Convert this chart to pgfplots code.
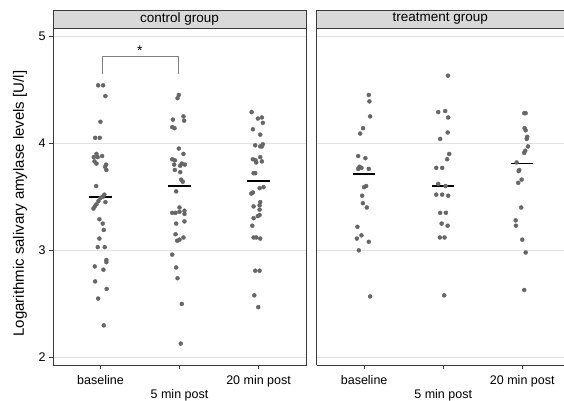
\documentclass[border=0pt]{standalone}
\usepackage{pgfplots}
\pgfplotsset{compat=1.18}
\usepackage{fontspec}
\setmainfont{Liberation Sans}

\definecolor{dotgray}{HTML}{666666}
\definecolor{stripgray}{HTML}{D9D9D9}
\definecolor{gridgray}{HTML}{E2E2E2}
\definecolor{framegray}{HTML}{3A3A3A}

\pgfplotsset{
  panel/.style={
    scale only axis,
    height=337pt,
    xmin=0.4, ymin=1.93, ymax=5.075,
    clip=false,
    xtick={1,2,3},
    xticklabels={baseline,,20 min post},
    extra x ticks={2},
    extra x tick labels={5 min post},
    extra x tick style={tick label style={yshift=-14pt}},
    xticklabel style={yshift=-3pt},
    ytick={2,3,4,5},
    ymajorgrids,
    grid style={gridgray, line width=0.8pt},
    tick align=outside,
    major tick length=4pt,
    tick style={framegray, line width=0.6pt},
    axis line style={framegray, line width=0.8pt},
    tick label style={font=\fontsize{12.5}{14}\selectfont},
    /pgf/number format/assume math mode=true,
  },
  dots/.style={only marks, mark=*, mark size=2pt, draw=dotgray, fill=dotgray},
  med/.style={black, line width=1.7pt, forget plot},
}

\begin{document}
\begin{tikzpicture}[x=1pt,y=1pt]
\useasboundingbox (0,0) rectangle (564,400);

% control group
\begin{axis}[panel, at={(53pt,35pt)}, anchor=south west, width=253pt, xmax=3.6,
  xtick pos=bottom, ytick pos=left,
  ylabel={Logarithmic salivary amylase levels [U/l]},
  ylabel style={font=\fontsize{15}{17}\selectfont, at={(rel axis cs:-0.115,0.479)}, anchor=base}]
\draw[framegray, line width=0.8pt, fill=stripgray] (rel axis cs:0,1) rectangle (rel axis cs:1,1.0534);
\node[font=\fontsize{13.5}{15}\selectfont] at (rel axis cs:0.5,1.0267) {control group};

\addplot[dots] table {
x y
0.971 4.54
1.034 4.54
1.063 4.44
1.000 4.20
0.933 4.05
0.991 4.05
0.950 3.90
0.916 3.87
0.966 3.87
1.021 3.88
0.925 3.83
0.950 3.81
1.072 3.80
1.059 3.78
1.075 3.75
0.946 3.60
1.050 3.52
1.030 3.50
1.000 3.49
0.975 3.46
1.063 3.45
0.950 3.43
0.928 3.41
0.912 3.39
0.987 3.29
1.029 3.25
1.042 3.19
0.987 3.11
0.966 3.03
1.054 3.03
1.075 2.91
1.075 2.89
0.928 2.85
1.038 2.82
0.933 2.71
1.079 2.64
0.971 2.55
1.042 2.30
};
\addplot[dots] table {
x y
1.991 4.45
1.975 4.42
2.050 4.25
2.059 4.21
1.916 4.22
1.908 4.15
1.937 4.14
1.991 3.95
2.050 3.90
1.908 3.85
1.941 3.84
1.933 3.80
2.029 3.81
2.067 3.80
2.009 3.79
1.941 3.75
2.009 3.73
2.021 3.66
2.042 3.64
1.958 3.55
2.000 3.40
1.908 3.35
1.950 3.35
2.000 3.36
2.063 3.37
2.063 3.34
2.063 3.27
1.958 3.25
1.950 3.15
1.971 3.09
2.000 3.10
2.050 3.12
1.908 2.96
1.958 2.84
1.975 2.74
2.029 2.50
2.016 2.13
};
\addplot[dots] table {
x y
2.912 4.29
2.991 4.23
3.042 4.24
3.054 4.19
2.928 4.13
3.021 4.08
2.958 3.98
3.021 3.97
3.054 3.99
3.042 3.97
2.928 3.85
2.962 3.84
3.021 3.87
3.042 3.83
2.971 3.82
2.937 3.72
2.958 3.72
3.013 3.58
3.063 3.59
2.928 3.54
2.908 3.53
3.021 3.45
3.013 3.42
2.937 3.41
3.013 3.38
2.937 3.30
2.991 3.32
3.013 3.33
2.921 3.23
2.937 3.12
2.971 3.12
3.021 3.11
2.958 2.81
3.013 2.81
2.946 2.58
2.996 2.47
};
\addplot[med] coordinates {(0.85,3.50) (1.15,3.50)};
\addplot[med] coordinates {(1.85,3.60) (2.15,3.60)};
\addplot[med] coordinates {(2.85,3.65) (3.15,3.65)};
\addplot[gray, line width=0.7pt, forget plot] coordinates {(1.02,4.645) (1.02,4.81) (1.99,4.81) (1.99,4.645)};
\node[font=\fontsize{14}{16}\selectfont] at (axis cs:1.5,4.86) {*};
\end{axis}

% treatment group
\begin{axis}[panel, at={(316.7pt,35pt)}, anchor=south west, width=247.3pt, xmax=3.528,
  axis x line*=bottom, axis y line*=left,
  yticklabels={}, major y tick style={draw=none}]
\draw[framegray, line width=0.8pt, fill=stripgray] (rel axis cs:0,1) rectangle (rel axis cs:1.01,1.0534);
\node[font=\fontsize{13.5}{15}\selectfont] at (rel axis cs:0.5,1.0267) {treatment group};

\addplot[dots] table {
x y
1.059 4.45
1.067 4.39
1.076 4.25
0.987 4.14
0.950 4.09
0.924 3.88
1.016 3.86
0.941 3.78
0.966 3.77
0.924 3.76
1.059 3.76
1.000 3.59
1.025 3.60
0.975 3.51
0.984 3.44
1.034 3.40
0.915 3.22
0.908 3.11
0.966 3.14
1.059 3.08
0.933 3.00
1.076 2.57
};
\addplot[dots] table {
x y
2.060 4.63
1.937 4.29
2.025 4.30
2.063 4.24
2.056 4.10
1.962 4.04
2.076 3.90
2.050 3.85
1.912 3.77
1.987 3.77
1.937 3.62
2.030 3.60
1.912 3.52
1.987 3.52
2.063 3.51
1.962 3.35
2.034 3.35
1.980 3.25
2.056 3.23
1.958 3.12
2.017 3.12
2.013 2.58
};
\addplot[dots] table {
x y
3.025 4.28
3.043 4.28
3.030 4.14
3.043 4.12
3.063 4.06
3.056 4.04
3.072 3.97
3.038 3.93
3.025 3.91
2.929 3.82
2.962 3.75
2.955 3.74
2.992 3.66
2.949 3.63
2.987 3.40
2.917 3.28
2.920 3.23
3.000 3.10
3.043 2.98
3.025 2.63
};
\addplot[med] coordinates {(0.86,3.71) (1.14,3.71)};
\addplot[med] coordinates {(1.86,3.60) (2.14,3.60)};
\addplot[med] coordinates {(2.86,3.81) (3.14,3.81)};
\end{axis}
\end{tikzpicture}
\end{document}
